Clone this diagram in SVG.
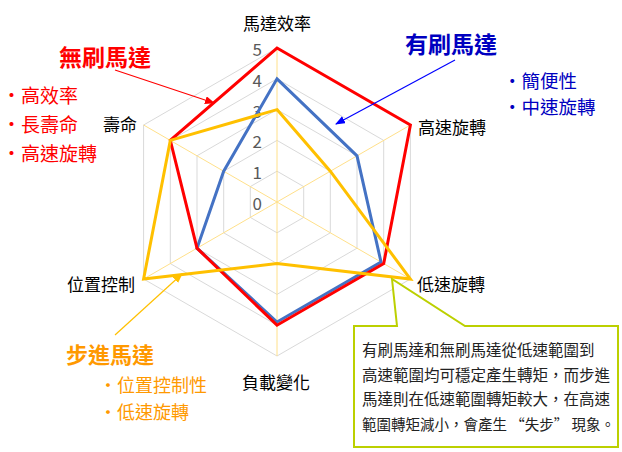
<svg xmlns="http://www.w3.org/2000/svg" width="622" height="452" viewBox="0 0 622 452">
<style>
text{font-family:"Noto Sans CJK TC","Liberation Sans",sans-serif}
.grid{fill:none;stroke:#d9d9d9;stroke-width:1}
.axis{stroke:#ffe08a;stroke-width:1}
.lbl{font-size:17px;fill:#000}
.lvl{font-size:17px;fill:#595959;text-anchor:end}
.ser{fill:none;stroke-width:3;stroke-linejoin:miter}
.cap{font-size:15.5px;fill:#222}
</style>
<defs>
<marker id="ar-r" markerWidth="10" markerHeight="8" refX="9" refY="4" orient="auto" markerUnits="userSpaceOnUse"><path d="M0,0L10,4L0,8z" fill="#ff0000"/></marker>
<marker id="ar-b" markerWidth="10" markerHeight="8" refX="9" refY="4" orient="auto" markerUnits="userSpaceOnUse"><path d="M0,0L10,4L0,8z" fill="#0000ff"/></marker>
<marker id="ar-o" markerWidth="10" markerHeight="8" refX="9" refY="4" orient="auto" markerUnits="userSpaceOnUse"><path d="M0,0L10,4L0,8z" fill="#ffc000"/></marker>
</defs>
<g id="grid">
<polygon class="grid" points="277,171.2 303.7,186.6 303.7,217.4 277,232.8 250.3,217.4 250.3,186.6"/>
<polygon class="grid" points="277,140.4 330.3,171.2 330.3,232.8 277,263.6 223.7,232.8 223.7,171.2"/>
<polygon class="grid" points="277,109.6 357,155.8 357,248.2 277,294.4 197,248.2 197,155.8"/>
<polygon class="grid" points="277,78.8 383.7,140.4 383.7,263.6 277,325.2 170.3,263.6 170.3,140.4"/>
<polygon class="grid" points="277,48 410.4,125 410.4,279 277,356 143.6,279 143.6,125"/>
<line class="axis" x1="277" y1="202" x2="277" y2="48"/>
<line class="axis" x1="277" y1="202" x2="410.4" y2="125"/>
<line class="axis" x1="277" y1="202" x2="410.4" y2="279"/>
<line class="axis" x1="277" y1="202" x2="277" y2="356"/>
<line class="axis" x1="277" y1="202" x2="143.6" y2="279"/>
<line class="axis" x1="277" y1="202" x2="143.6" y2="125"/>
<text class="lvl" x="262" y="210">0</text>
<text class="lvl" x="262" y="179">1</text>
<text class="lvl" x="262" y="148">2</text>
<text class="lvl" x="262" y="118">3</text>
<text class="lvl" x="262" y="87">4</text>
<text class="lvl" x="262" y="56">5</text>
</g>
<g id="series">
<polygon class="ser" stroke="#4472c4" points="277,78.8 357,155.8 381,262 277,322 197,248.2 223.7,171.2"/>
<polygon class="ser" stroke="#ff0000" points="277,48 410.4,125 383.7,263.6 277,325.2 197,248.2 170.3,140.4"/>
<polygon class="ser" stroke="#ffc000" points="277,109.6 330.3,171.2 410.4,279 277,263.6 143.6,279 170.3,140.4"/>
</g>
<g id="axis-labels">
<text class="lbl" x="277" y="30" text-anchor="middle">馬達效率</text>
<text class="lbl" x="418" y="134">高速旋轉</text>
<text class="lbl" x="417" y="291">低速旋轉</text>
<text class="lbl" x="276" y="389" text-anchor="middle">負載變化</text>
<text class="lbl" x="67" y="291">位置控制</text>
<text class="lbl" x="103" y="131">壽命</text>
</g>
<g id="connectors">
<line x1="115" y1="70" x2="214" y2="103" stroke="#ff0000" stroke-width="1.2" marker-end="url(#ar-r)"/>
<line x1="455" y1="60" x2="336" y2="124" stroke="#0000ff" stroke-width="1.2" marker-end="url(#ar-b)"/>
<line x1="115" y1="335" x2="182" y2="274" stroke="#ffc000" stroke-width="1.2" marker-end="url(#ar-o)"/>
</g>
<g id="brushless">
<text x="105" y="66" text-anchor="middle" font-size="23" font-weight="bold" fill="#ff0000">無刷馬達</text>
<text x="2" y="103" font-size="19" fill="#ff0000">•高效率</text>
<text x="2" y="132" font-size="19" fill="#ff0000">•長壽命</text>
<text x="2" y="161" font-size="19" fill="#ff0000">•高速旋轉</text>
</g>
<g id="brushed">
<text x="405" y="53" font-size="23" font-weight="bold" fill="#0000c0">有刷馬達</text>
<text x="503" y="88" font-size="18.5" fill="#0000c0">•簡便性</text>
<text x="503" y="114" font-size="18.5" fill="#0000c0">•中速旋轉</text>
</g>
<g id="stepper">
<text x="66" y="363" font-size="22" font-weight="bold" fill="#ff9900">步進馬達</text>
<text x="99" y="392" font-size="18" fill="#ff9900">•位置控制性</text>
<text x="99" y="419" font-size="18" fill="#ff9900">•低速旋轉</text>
</g>
<g id="callout">
<path d="M354,326H397L392,279L465,326H618V447H354Z" fill="#fff" stroke="#bcd000" stroke-width="2" stroke-linejoin="miter"/>
<text class="cap" x="362" y="356">有刷馬達和無刷馬達從低速範圍到</text>
<text class="cap" x="362" y="381">高速範圍均可穩定產生轉矩，而步進</text>
<text class="cap" x="362" y="405">馬達則在低速範圍轉矩較大，在高速</text>
<text x="362" y="430" font-size="14.5" fill="#222">範圍轉矩減小，會產生 “失步” 現象。</text>
</g>
</svg>
